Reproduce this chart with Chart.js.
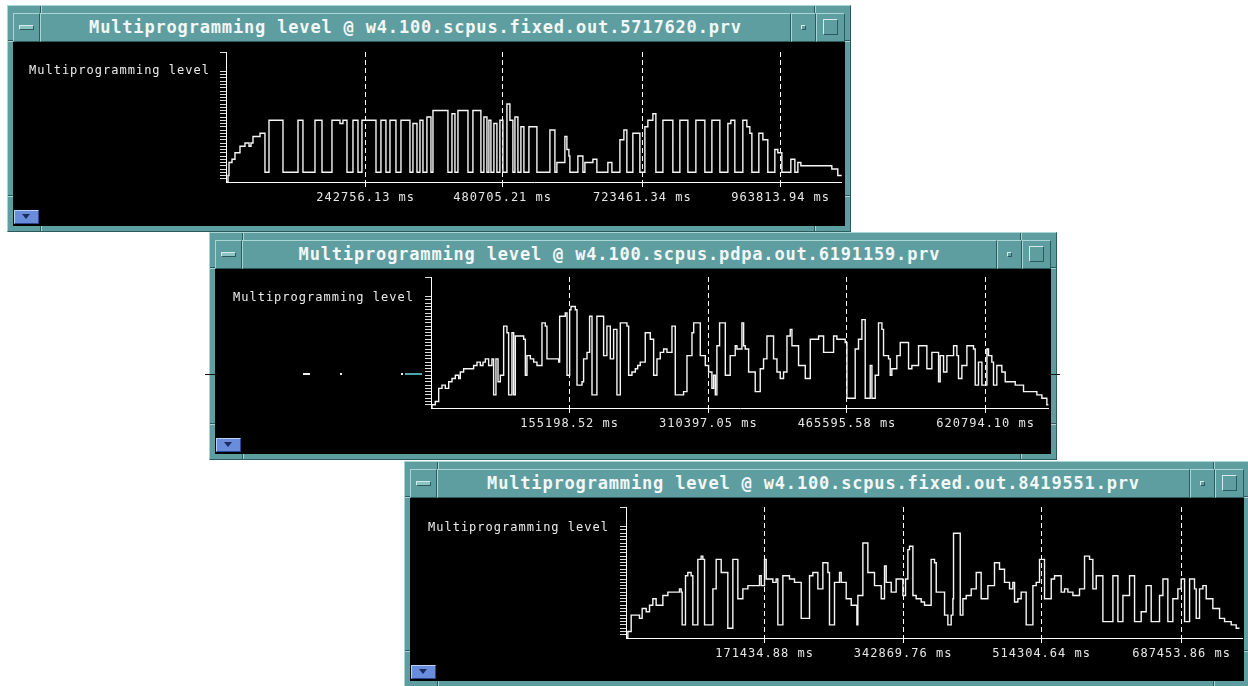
<!DOCTYPE html>
<html>
<head>
<meta charset="utf-8">
<title>Multiprogramming level</title>
<script src="https://cdn.jsdelivr.net/npm/chart.js@4.4.1/dist/chart.umd.min.js"></script>
<style>
html,body{margin:0;padding:0;}
body{width:1248px;height:686px;overflow:hidden;position:relative;background:#fff;font-family:'DejaVu Sans Mono',monospace;}
.win{position:absolute;box-sizing:border-box;background:#5f9ea0;border:1px solid;border-color:#a9d5d6 #2c5b5d #2c5b5d #a9d5d6;}
.tb{position:absolute;left:5px;right:5px;top:7px;height:29px;display:flex;}
.tb>div{box-sizing:border-box;height:29px;border:1px solid;border-color:#a9d5d6 #2c5b5d #2c5b5d #a9d5d6;position:relative;}
.tb .menu{width:27px;}
.tb .menu i{position:absolute;left:5px;top:11px;width:13px;height:3px;border:1px solid;border-color:#d2ecec #2c5b5d #2c5b5d #d2ecec;background:#8cc3c4;}
.tb .title{flex:1;color:#f2f7f7;font-weight:bold;font-size:17px;letter-spacing:0.83px;text-align:center;line-height:27px;white-space:nowrap;overflow:hidden;}
.tb .dot{width:25px;}
.tb .dot i{position:absolute;left:9px;top:11px;width:3px;height:3px;border:1px solid;border-color:#d2ecec #2c5b5d #2c5b5d #d2ecec;}
.tb .max{width:29px;}
.tb .max i{position:absolute;left:6px;top:5px;width:13px;height:14px;border:1px solid;border-color:#d2ecec #2c5b5d #2c5b5d #d2ecec;}
.body{position:absolute;left:5px;right:5px;top:36px;bottom:5px;background:#000;overflow:hidden;}
.body canvas{position:absolute;left:0;top:0;}
.ylab{position:absolute;color:#ececec;font-size:12px;line-height:12px;letter-spacing:1px;white-space:nowrap;}
.bbtn{position:absolute;left:1px;bottom:2px;width:25px;height:14px;box-sizing:border-box;background:#6a8ddb;border:1px solid;border-color:#bcd0f7 #2c468f #2c468f #bcd0f7;}
.bbtn i{position:absolute;left:7px;top:3px;width:0;height:0;border-left:4px solid transparent;border-right:4px solid transparent;border-top:5px solid #1b2c63;}
.mk{position:absolute;}
.stray{position:absolute;height:2px;}
</style>
</head>
<body>
<script>
// ---- trace data: time (s) at which each level starts, and the level ----
const w1Times = [0,3.5,5.2,10.4,15.6,24.3,33.0,40.0,43.4,46.9,59.1,67.7,74.7,99.0,125.1,133.7,154.6,166.8,184.1,198.0,203.2,210.2,220.6,229.3,236.2,260.6,269.2,277.9,284.9,295.3,304.0,319.6,324.8,331.8,337.0,342.2,349.1,356.1,359.6,385.6,392.6,397.8,403.0,420.4,429.0,442.9,448.1,453.4,456.8,460.3,465.5,470.7,475.9,481.1,488.1,493.3,498.5,502.0,507.2,512.4,517.6,526.3,540.2,562.8,571.5,574.9,588.8,592.3,595.8,597.5,611.4,620.1,623.6,637.5,644.4,663.5,670.5,684.4,691.3,696.5,706.9,719.1,727.8,733.0,741.7,746.9,759.1,776.4,788.6,802.5,816.4,832.0,844.2,858.1,872.0,877.2,884.1,898.0,905.0,910.2,913.7,925.8,932.8,941.4,953.6,958.8,965.8,981.4,988.4,993.6,998.8,1052.6,1063.0,1069.8];
const w1Levels = [0,2,6,7,9,11,12,11,12,14,15,3,19,3,19,3,19,3,19,18,19,3,19,3,19,3,19,3,19,3,19,3,18,3,19,3,20,3,22,3,21,3,22,3,22,3,20,3,19,3,18,3,19,3,24,19,3,20,3,17,3,17,3,16,3,6,14,10,8,3,8,3,6,7,3,6,3,13,16,3,15,3,17,19,21,3,19,3,19,3,19,3,19,3,18,19,3,19,17,15,3,15,13,3,10,9,3,7,3,6,5,4,2,2];

const w2Times = [0,1.1,4.8,8.6,12.3,16.0,19.8,23.5,27.2,31.0,32.8,36.5,47.7,51.5,55.2,58.2,60.8,64.5,68.2,70.1,72.7,75.0,77.6,81.3,85.0,86.9,90.6,92.5,94.4,103.7,105.6,107.4,111.2,114.9,118.6,124.2,127.9,129.8,142.9,144.0,150.3,152.2,155.2,156.7,161.5,163.4,169.0,170.8,174.6,177.5,180.2,185.7,193.2,196.9,200.7,204.4,208.1,211.9,219.3,221.2,224.9,228.7,231.3,234.2,239.8,245.4,249.2,252.9,256.6,260.4,264.1,269.7,273.4,282.7,286.5,292.1,294.0,301.4,307.0,310.7,314.4,316.3,318.2,320.0,323.0,329.4,334.9,340.5,342.4,348.0,349.9,351.7,355.5,362.9,368.5,372.2,376.0,383.4,387.2,390.9,394.6,398.4,402.1,404.0,411.4,418.9,424.5,433.8,439.4,450.6,454.3,463.6,465.5,474.8,478.5,482.3,486.0,491.6,493.5,497.2,500.9,504.7,506.5,512.1,514.0,515.8,521.4,525.2,534.5,538.2,545.7,555.0,560.6,568.1,569.9,573.7,577.4,584.9,588.6,590.4,594.2,599.8,607.2,609.1,612.8,616.6,622.2,624.0,627.7,629.6,633.3,638.9,642.7,653.9,663.2,678.1,683.7,689.3,691.0];
const w2Levels = [0,1,2,6,7,6,8,9,10,9,11,12,13,14,13,14,15,13,15,4,15,8,10,25,23,4,23,4,22,21,10,16,15,14,13,26,25,15,14,28,29,10,30,31,30,7,8,15,17,28,4,28,16,25,15,24,4,26,25,10,11,12,13,14,23,21,10,15,17,18,17,25,4,5,16,23,26,16,13,11,6,10,4,19,26,10,16,19,18,26,19,18,11,5,12,15,22,15,11,9,11,22,24,19,13,9,21,22,17,22,21,20,3,18,21,27,3,13,3,10,26,24,16,15,10,12,16,20,12,13,19,12,17,8,16,11,16,19,16,9,13,19,18,7,14,7,18,16,14,7,13,11,8,7,5,4,3,1,1];

const w3Times = [0,2.3,6.4,16.7,20.0,25.0,29.1,33.2,37.3,45.6,51.8,66.2,68.3,69.5,73.6,76.5,80.6,82.7,88.9,93.0,95.1,97.2,107.5,111.6,117.8,126.0,132.2,138.4,144.6,150.8,165.2,167.3,171.4,173.5,181.7,185.8,187.9,194.1,202.3,208.5,216.8,227.1,231.2,237.4,243.6,249.8,251.8,258.0,264.2,266.3,272.5,278.7,285.7,286.9,293.1,299.3,307.5,315.8,319.9,322.0,328.2,334.3,342.6,345.9,348.8,350.8,355.0,359.1,365.3,369.4,377.6,381.8,383.9,394.2,398.3,402.4,404.5,405.3,413.6,416.9,421.0,427.2,433.4,439.5,447.8,456.0,462.2,468.4,474.6,478.7,480.8,484.9,489.0,495.2,503.5,507.6,511.7,517.9,526.2,530.3,538.5,542.7,546.8,553.0,561.2,567.4,573.6,577.7,581.9,590.1,602.5,608.7,614.9,623.1,629.3,637.5,643.7,649.9,660.2,664.4,670.5,676.7,682.9,687.0,691.2,697.4,703.5,705.6,709.7,713.9,718.0,726.2,734.5,740.7,748.9,755.1,759.2];
const w3Levels = [0,2,7,6,9,8,10,12,10,13,14,15,14,4,19,20,19,4,24,25,24,4,15,24,20,3,24,12,15,16,19,16,24,18,17,18,4,19,18,17,6,19,20,15,23,20,4,17,20,17,12,10,4,13,29,20,16,12,22,17,14,18,13,18,27,28,13,12,11,10,24,23,14,7,4,7,12,32,7,12,13,15,20,12,16,23,21,17,15,17,11,12,14,4,16,17,24,12,18,19,14,15,14,13,15,25,24,15,19,5,19,5,13,19,5,8,16,5,13,18,5,12,15,18,5,18,15,6,15,16,12,9,6,5,4,3,3];

// ---- time axis labels (ms) ----
const w1Ticks = [242756.13, 480705.21, 723461.34, 963813.94];
const w2Ticks = [155198.52, 310397.05, 465595.58, 620794.10];
const w3Ticks = [171434.88, 342869.76, 514304.64, 687453.86];

// ---- trace duration shown (ms) ----
const w1End = 1070300;
const w2End = 691700;
const w3End = 763500;

const windowTitles = [
  'Multiprogramming level @ w4.100.scpus.fixed.out.5717620.prv',
  'Multiprogramming level @ w4.100.scpus.pdpa.out.6191159.prv',
  'Multiprogramming level @ w4.100.scpus.fixed.out.8419551.prv'
];
const axisTitle = 'Multiprogramming level';

// window frames and plot placement
const layouts = [
  {left:7,   top:5,   w:844, h:227, plot:{left:213, top:10, right:3, bottom:44}, lab:{left:16, top:22}},
  {left:209, top:232, w:848, h:228, plot:{left:216, top:8,  right:2, bottom:46}, lab:{left:18, top:22}},
  {left:404, top:461, w:846, h:226, plot:{left:216, top:9,  right:1, bottom:43}, lab:{left:18, top:23}}
];
const series = [
  {times:w1Times, levels:w1Levels, ticks:w1Ticks, end:w1End},
  {times:w2Times, levels:w2Levels, ticks:w2Ticks, end:w2End},
  {times:w3Times, levels:w3Levels, ticks:w3Ticks, end:w3End}
];

// level scale: small tick every unit, plus the cap at the top
const levelMax = 40;
const levelTicks = [];
for (let v = 0; v <= 34; v++) levelTicks.push(v);
levelTicks.push(levelMax);

const monoSpacing = {
  id: 'monoSpacing',
  beforeLayout(c) { c.ctx.letterSpacing = '1px'; },
  beforeDraw(c) { c.ctx.letterSpacing = '1px'; }
};

function frameMarks(win, w, h) {
  const dark = '#2c5b5d', light = '#a9d5d6';
  const add = (x, y, ww, hh, col) => {
    const d = document.createElement('div');
    d.className = 'mk';
    d.style.cssText = `left:${x}px;top:${y}px;width:${ww}px;height:${hh}px;background:${col}`;
    win.appendChild(d);
  };
  const iw = w - 2, ih = h - 2;
  [32, iw - 36].forEach(x => {
    add(x, 0, 1, 7, dark); add(x + 1, 0, 1, 7, light);
    add(x, ih - 5, 1, 5, dark); add(x + 1, ih - 5, 1, 5, light);
  });
  [34, ih - 36].forEach(y => {
    add(0, y, 5, 1, dark); add(0, y + 1, 5, 1, light);
    add(iw - 5, y, 5, 1, dark); add(iw - 5, y + 1, 5, 1, light);
  });
}

layouts.forEach((L, i) => {
  const win = document.createElement('div');
  win.className = 'win';
  win.style.cssText = `left:${L.left}px;top:${L.top}px;width:${L.w}px;height:${L.h}px;z-index:${i + 1}`;
  win.innerHTML =
    '<div class="tb"><div class="menu"><i></i></div><div class="title"></div>' +
    '<div class="dot"><i></i></div><div class="max"><i></i></div></div>' +
    '<div class="body"><canvas></canvas><div class="ylab"></div><div class="bbtn"><i></i></div></div>';
  win.querySelector('.title').textContent = windowTitles[i];
  const lab = win.querySelector('.ylab');
  lab.textContent = axisTitle;
  lab.style.left = L.lab.left + 'px';
  lab.style.top = L.lab.top + 'px';
  document.body.appendChild(win);
  frameMarks(win, L.w, L.h);

  const bw = L.w - 12, bh = L.h - 43;
  const cv = win.querySelector('canvas');
  cv.width = bw; cv.height = bh;
  cv.style.width = bw + 'px'; cv.style.height = bh + 'px';

  const S = series[i];
  const pts = S.times.map((t, k) => ({x: t * 1000, y: S.levels[k]}));

  new Chart(cv.getContext('2d'), {
    type: 'line',
    data: {datasets: [{
      data: pts, stepped: 'before', borderColor: '#f6f6f6', borderWidth: 1.4,
      pointRadius: 0, fill: false, tension: 0
    }]},
    options: {
      responsive: false, animation: false, devicePixelRatio: 1,
      layout: {padding: {left: 0, top: L.plot.top, right: L.plot.right, bottom: 0}},
      plugins: {legend: {display: false}, tooltip: {enabled: false}, title: {display: false}},
      scales: {
        x: {
          type: 'linear', min: 0, max: S.end,
          afterBuildTicks: s => { s.ticks = S.ticks.map(v => ({value: v})); },
          afterFit: s => { s.height = L.plot.bottom; },
          ticks: {
            autoSkip: false, maxRotation: 0, minRotation: 0, padding: 4,
            color: '#e6e6e6', font: {family: 'DejaVu Sans Mono', size: 12},
            callback: v => Number(v).toFixed(2) + ' ms'
          },
          grid: {color: '#ffffff', lineWidth: 1, drawOnChartArea: true, drawTicks: true, tickLength: 5, tickColor: '#ffffff'},
          border: {display: false, dash: [5, 3]}
        },
        y: {
          min: 0, max: levelMax,
          afterBuildTicks: s => { s.ticks = levelTicks.map(v => ({value: v})); },
          afterFit: s => { s.width = L.plot.left; },
          ticks: {display: false},
          grid: {
            drawOnChartArea: true, tickLength: 6, lineWidth: 1,
            color: c => (c.tick && c.tick.value === 0) ? '#ffffff' : 'rgba(0,0,0,0)',
            tickColor: c => (c.tick && c.tick.value === 0) ? 'rgba(0,0,0,0)' : '#dcdcdc'
          },
          border: {display: true, color: '#ffffff', width: 1}
        }
      }
    },
    plugins: [monoSpacing]
  });
});

// leftover marks on the second window's canvas and the line running behind it
(function () {
  const body2 = document.querySelectorAll('.body')[1];
  [[88, 104, 7, '#f0f0f0'], [125, 104, 2, '#f0f0f0'], [186, 104, 2, '#f0f0f0'], [190, 104, 17, '#4aa7aa']].forEach(s => {
    const d = document.createElement('div');
    d.className = 'stray';
    d.style.cssText += `left:${s[0]}px;top:${s[1]}px;width:${s[2]}px;background:${s[3]}`;
    body2.appendChild(d);
  });
  [[205, 12], [1048, 12]].forEach(s => {
    const d = document.createElement('div');
    d.style.cssText = `position:absolute;left:${s[0]}px;top:374px;width:${s[1]}px;height:1px;background:#111;z-index:5`;
    document.body.appendChild(d);
  });
})();
</script>
</body>
</html>
